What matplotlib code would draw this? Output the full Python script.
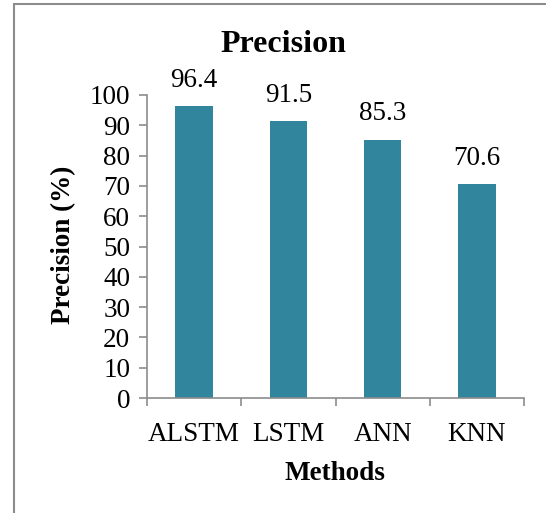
import matplotlib.pyplot as plt
from matplotlib.patches import Rectangle

# data
methods = ['ALSTM', 'LSTM', 'ANN', 'KNN']
precision = [96.4, 91.5, 85.3, 70.6]

bar_color = '#31869E'
grey = '#8C8C8C'
fs = 19.5

plt.rcParams['font.family'] = ['Liberation Serif', 'DejaVu Serif']

W, H = 546, 513
fig = plt.figure(figsize=(W / 100, H / 100), dpi=100)

# outer chart border (left + top visible)
fig.add_artist(Rectangle((14 / W, -0.1), 1.2, (H - 4) / H + 0.1,
                         transform=fig.transFigure, fill=False,
                         edgecolor=grey, linewidth=1.5))

# axes box in pixel coordinates
x0, x1 = 147, 524
y_top, y_bot = 95, 398
ax = fig.add_axes([x0 / W, 1 - y_bot / H, (x1 - x0) / W, (y_bot - y_top) / H])

pos = list(range(len(methods)))
bars = ax.bar(pos, precision, width=0.4, color=bar_color)
for b, v in zip(bars, precision):
    ax.text(b.get_x() + b.get_width() / 2, v + 6.3, f'{v}',
            ha='center', va='baseline', fontsize=fs)

ax.set_xlim(-0.5, len(methods) - 0.5)
ax.set_ylim(0, 100)
ax.set_yticks(range(0, 101, 10))
ax.tick_params(axis='y', labelsize=fs, length=6, color=grey, width=1.2, pad=6)

# category labels, tick marks on category boundaries
ax.set_xticks(pos)
ax.set_xticklabels(methods, fontsize=fs)
ax.tick_params(axis='x', which='major', length=0, pad=17)
ax.set_xticks([p - 0.5 for p in range(len(methods) + 1)], minor=True)
ax.tick_params(axis='x', which='minor', length=6, color=grey, width=1.2)

for s in ['top', 'right']:
    ax.spines[s].set_visible(False)
for s in ['left', 'bottom']:
    ax.spines[s].set_color(grey)
    ax.spines[s].set_linewidth(1.2)

fig.text(283 / W, 1 - 45 / H, 'Precision', ha='center', va='center',
         fontsize=23, fontweight='bold')
fig.text(64 / W, 1 - 245 / H, 'Precision (%)', ha='center', va='center',
         rotation=90, fontsize=fs, fontweight='bold')
fig.text(335 / W, 1 - 473 / H, 'Methods', ha='center', va='center',
         fontsize=fs, fontweight='bold')

fig.savefig('out.png', dpi=100)
